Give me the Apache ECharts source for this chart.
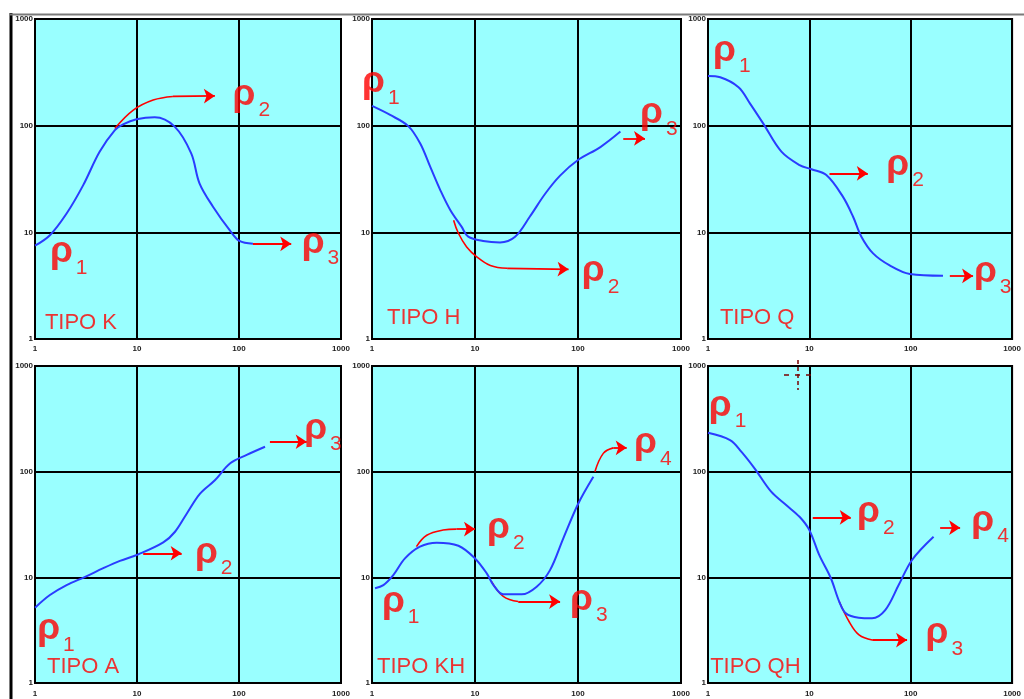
<!DOCTYPE html>
<html><head><meta charset="utf-8">
<script src="https://cdn.jsdelivr.net/npm/echarts@6/dist/echarts.min.js"></script>
<style>html,body{margin:0;padding:0;background:#fff;}#c{width:1024px;height:699px;}</style>
</head><body><div id="c"></div>
<script>
// ---- data (AB/2 vs apparent resistivity, log-log) ----
const panelTitles = ['TIPO K', 'TIPO H', 'TIPO Q', 'TIPO A', 'TIPO KH', 'TIPO QH'];
const axisTicks = [1, 10, 100, 1000];

const curveK  = [[1,7.5],[1.4,9.4],[2.04,15],[2.97,27.7],[4.3,57],[6.07,91],[7.3,103],[9.9,115],[14.9,120],[23.4,98],[34,55],[41,28.8],[55.6,17.4],[81,10.5],[101,8.3],[137,7.8]];
const curveH  = [[1,153],[1.5,126],[2.25,99],[2.94,68],[3.68,41],[4.6,24.9],[5.75,16.2],[7.4,11.3],[8.6,9.1],[12,8.3],[17.5,8.05],[24.5,9.1],[34,14],[48,23],[67,34],[100,47.6],[165,63],[258,88]];
const curveQ  = [[1,292],[1.32,284],[2,229],[2.59,162],[3.5,105],[5.3,57],[8,42.7],[10.5,39],[14.7,34.4],[21.4,21.6],[27,14],[32.6,9.1],[42.5,6.35],[62,4.9],[98,4.07],[208,3.92]];
const curveA  = [[1,5.16],[1.4,6.8],[2.04,8.45],[3.1,10.1],[4.67,12.2],[6.8,14.3],[10.3,16.5],[18.1,21.4],[23.6,27],[30.7,40],[41.5,62],[58,83],[82,120],[119,144],[180,172]];
const curveKH = [[1.07,7.9],[1.29,8.45],[1.61,10.5],[2.09,15.1],[2.92,19.5],[4.25,21.3],[6.9,19.9],[10,15.1],[13,10.9],[15.1,8.45],[18.8,6.9],[28.4,6.9],[39.7,8.15],[53.5,11.7],[72,23.4],[100.7,50],[141,89.5]];
const curveQH = [[1,233],[1.65,199],[2.14,154],[2.89,107],[4.2,64.6],[5.9,48.3],[8,37.4],[10,28],[12.5,16.3],[16.3,9.8],[19.7,5.9],[22.9,4.56],[30.7,4.15],[41.5,4.1],[56,4.9],[76,8.45],[103,14.6],[168,24.2]];

// red asymptote curves (bent part) and straight arrows
const bendK   = [[[6.06,94],[9.2,140],[14.4,174],[22.5,188]]];
const arrowK  = [[[22.5,188],[58,190]], [[137,7.8],[325,7.8]]];
const bendH   = [[[6.2,13],[6.9,9.8],[8.3,7.3],[10.4,5.9],[14.1,4.9],[20.5,4.6]]];
const arrowH  = [[[20.5,4.6],[81,4.5]], [[275,76],[447,76]]];
const bendQ   = [];
const arrowQ  = [[[15.8,35.7],[37.7,35.7]], [[243,3.9],[412,3.9]]];
const bendA   = [];
const arrowA  = [[[11.5,16.9],[27.4,16.9]], [[201,192],[461,192]]];
const bendKH  = [[[2.7,19.5],[3.4,25],[4.9,28],[6.6,28.6]], [[14.5,9.1],[18.8,6.6],[26.3,5.9]], [[146,100],[176,149],[220,168]]];
const arrowKH = [[[6.6,28.6],[10,28.6]], [[26.3,5.9],[67,5.9]], [[220,168],[297,168]]];
const bendQH  = [[[19.7,5.9],[24.7,3.8],[30.9,2.85],[41.7,2.55]]];
const arrowQH = [[[10.8,37],[25.6,37]], [[41.7,2.55],[92,2.55]], [[195,29.5],[307,29.5]]];

// rho labels: [x, y, subscript]
const rhoK  = [[1.40,6.0,'1'],[86.5,179,'2'],[412,7.36,'3']];
const rhoH  = [[0.8,235,'1'],[109,3.98,'2'],[400,120,'3']];
const rhoQ  = [[1.12,464,'1'],[57.5,39.6,'2'],[420,3.94,'3']];
const rhoA  = [[1.05,2.97,'1'],[37,15.7,'2'],[435,234,'3']];
const rhoKH = [[1.25,5.41,'1'],[13.1,27.1,'2'],[83.6,5.65,'3'],[350,171,'4']];
const rhoQH = [[1.02,387,'1'],[29.5,38,'2'],[140,2.72,'3'],[396,31.6,'4']];
const titleAt = [[1.25,1.41],[1.40,1.57],[1.31,1.57],[1.31,1.42],[1.12,1.42],[1.05,1.42]];

// ---- layout / style ----
const grids = [
  {left:35, top:19, width:306, height:320},
  {left:372, top:19, width:309, height:320},
  {left:708, top:19, width:305, height:320},
  {left:35, top:366, width:306, height:317},
  {left:372, top:366, width:309, height:317},
  {left:708, top:366, width:306, height:317}
];
const panels = [
  {curve:curveK, bends:bendK, arrows:arrowK, rho:rhoK},
  {curve:curveH, bends:bendH, arrows:arrowH, rho:rhoH},
  {curve:curveQ, bends:bendQ, arrows:arrowQ, rho:rhoQ},
  {curve:curveA, bends:bendA, arrows:arrowA, rho:rhoA},
  {curve:curveKH, bends:bendKH, arrows:arrowKH, rho:rhoKH},
  {curve:curveQH, bends:bendQH, arrows:arrowQH, rho:rhoQH}
];
const BLUE = '#2a3cff', RED = '#ff0000', CYAN = '#99ffff';
const FONT = 'Liberation Sans, Arial, sans-serif';
const noBorder = {textBorderWidth:0, textBorderColor:'transparent', textShadowBlur:0};

const tickLabel = (margin) => ({fontSize:8, fontWeight:'bold', color:'#222', margin:margin, fontFamily:FONT,
  showMinLabel:true, showMaxLabel:true, formatter: v => String(Math.round(v))});

const option = {
  animation:false,
  backgroundColor:'#ffffff',
  grid: grids.map(g => Object.assign({show:true, backgroundColor:CYAN, borderColor:'#000', borderWidth:2}, g)),
  xAxis: grids.map((g,i) => ({
    type:'log', logBase:10, min:axisTicks[0], max:axisTicks[3], gridIndex:i,
    axisLine:{show:false}, axisTick:{show:false},
    splitLine:{show:true, lineStyle:{color:'#000', width:2}},
    axisLabel:tickLabel(i < 3 ? 6 : 7)
  })),
  yAxis: grids.map((g,i) => ({
    type:'log', logBase:10, min:axisTicks[0], max:axisTicks[3], gridIndex:i,
    axisLine:{show:false}, axisTick:{show:false},
    splitLine:{show:true, lineStyle:{color:'#000', width:2}},
    axisLabel:tickLabel(2)
  })),
  series: [],
  graphic: [
    {type:'line', shape:{x1:11, y1:13, x2:11, y2:699}, style:{stroke:'#000', lineWidth:3}},
    {type:'line', shape:{x1:10, y1:14.5, x2:1024, y2:14.5}, style:{stroke:'#7a7a7a', lineWidth:2}},
    {type:'line', shape:{x1:798, y1:360, x2:798, y2:390}, style:{stroke:'#7a0000', lineWidth:1.5, lineDash:[4,3]}, z:100},
    {type:'line', shape:{x1:784, y1:375, x2:812, y2:375}, style:{stroke:'#7a0000', lineWidth:1.5, lineDash:[5,6]}, z:100}
  ]
};

panels.forEach((p,i) => {
  option.series.push({
    type:'line', xAxisIndex:i, yAxisIndex:i, data:p.curve, smooth:0.35,
    showSymbol:false, lineStyle:{color:BLUE, width:2}, z:5, silent:true
  });
  p.bends.forEach(b => option.series.push({
    type:'line', xAxisIndex:i, yAxisIndex:i, data:b, smooth:0.4,
    showSymbol:false, lineStyle:{color:RED, width:1.6}, z:4, silent:true
  }));
  option.series.push({
    type:'lines', coordinateSystem:'cartesian2d', xAxisIndex:i, yAxisIndex:i,
    symbol:['none','arrow'], symbolSize:[9,11], silent:true, z:6,
    lineStyle:{color:RED, width:1.8, opacity:1, curveness:0},
    data:p.arrows.map(a => ({coords:a}))
  });
  option.series.push({
    type:'scatter', xAxisIndex:i, yAxisIndex:i, symbolSize:0, clip:false, silent:true, z:10,
    itemStyle:{color:RED},
    data:p.rho.map(r => ({value:[r[0], r[1]], sub:r[2]})),
    label:Object.assign({show:true, position:'inside', align:'left', verticalAlign:'middle', color:RED,
      formatter: prm => '{r|ρ}{s|' + prm.data.sub + '}',
      rich:{
        r:Object.assign({fontSize:37, fontWeight:'bold', fontFamily:FONT, color:RED, padding:[0,0,8,0]}, noBorder),
        s:Object.assign({fontSize:21, fontWeight:500, fontFamily:FONT, color:RED, verticalAlign:'bottom', padding:[0,0,0,3]}, noBorder)
      }}, noBorder)
  });
  option.series.push({
    type:'scatter', xAxisIndex:i, yAxisIndex:i, symbolSize:0, clip:false, silent:true, z:10,
    itemStyle:{color:RED},
    data:[{value:titleAt[i], title:panelTitles[i]}],
    label:Object.assign({show:true, position:'inside', align:'left', verticalAlign:'middle',
      formatter: prm => prm.data.title, fontSize:22, fontFamily:FONT, color:RED}, noBorder)
  });
});

const chart = echarts.init(document.getElementById('c'), null, {renderer:'canvas'});
chart.setOption(option);
</script></body></html>
